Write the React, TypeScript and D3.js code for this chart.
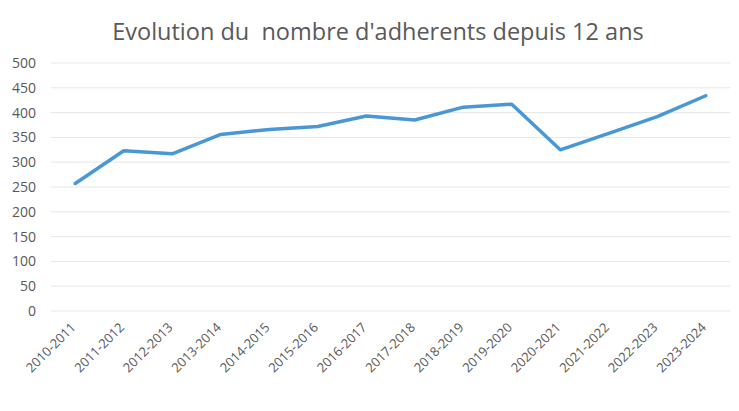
import React from "react";
import * as d3 from "d3";

const categories = [
  "2010-2011", "2011-2012", "2012-2013", "2013-2014", "2014-2015", "2015-2016", "2016-2017",
  "2017-2018", "2018-2019", "2019-2020", "2020-2021", "2021-2022", "2022-2023", "2023-2024",
];
const adherents = [257, 323, 317, 356, 366, 372, 393, 385, 411, 417, 325, 358, 392, 434];
const yTicks = [0, 50, 100, 150, 200, 250, 300, 350, 400, 450, 500];
const title = "Evolution du  nombre d'adherents depuis 12 ans";

const W = 739;
const H = 411;
const left = 51;
const right = 730;
const top = 63;
const bottom = 311;

export default function App() {
  const x = d3.scaleBand<string>().domain(categories).range([left, right]);
  const y = d3.scaleLinear().domain([0, 500]).range([bottom, top]);
  const line = d3
    .line<number>()
    .x((_, i) => (x(categories[i]) as number) + x.bandwidth() / 2)
    .y((d) => y(d));
  const font = "'Open Sans', 'Noto Sans', sans-serif";
  return (
    <svg
      width={W}
      height={H}
      style={{ position: "absolute", left: 0, top: 0, background: "#fff" }}
    >
      <text
        x={378}
        y={40}
        textAnchor="middle"
        fontFamily={font}
        fontSize={23.5}
        fill="#595959"
        style={{ whiteSpace: "pre" }}
      >
        {title}
      </text>
      {yTicks.map((t) => (
        <g key={t}>
          <line x1={left} x2={right} y1={y(t)} y2={y(t)} stroke="#e6e6e6" strokeWidth={1} />
          <text
            x={36}
            y={y(t)}
            dy="0.35em"
            textAnchor="end"
            fontFamily={font}
            fontSize={14}
            fill="#595959"
          >
            {t}
          </text>
        </g>
      ))}
      {categories.map((c) => {
        const cx = (x(c) as number) + x.bandwidth() / 2;
        return (
          <text
            key={c}
            transform={`translate(${cx - 2},${bottom + 14}) rotate(-45)`}
            textAnchor="end"
            dy="0.35em"
            fontFamily={font}
            fontSize={13}
            fill="#595959"
          >
            {c}
          </text>
        );
      })}
      <path
        d={line(adherents) || ""}
        fill="none"
        stroke="#4a97d6"
        strokeWidth={3.5}
        strokeLinejoin="round"
        strokeLinecap="round"
      />
    </svg>
  );
}
